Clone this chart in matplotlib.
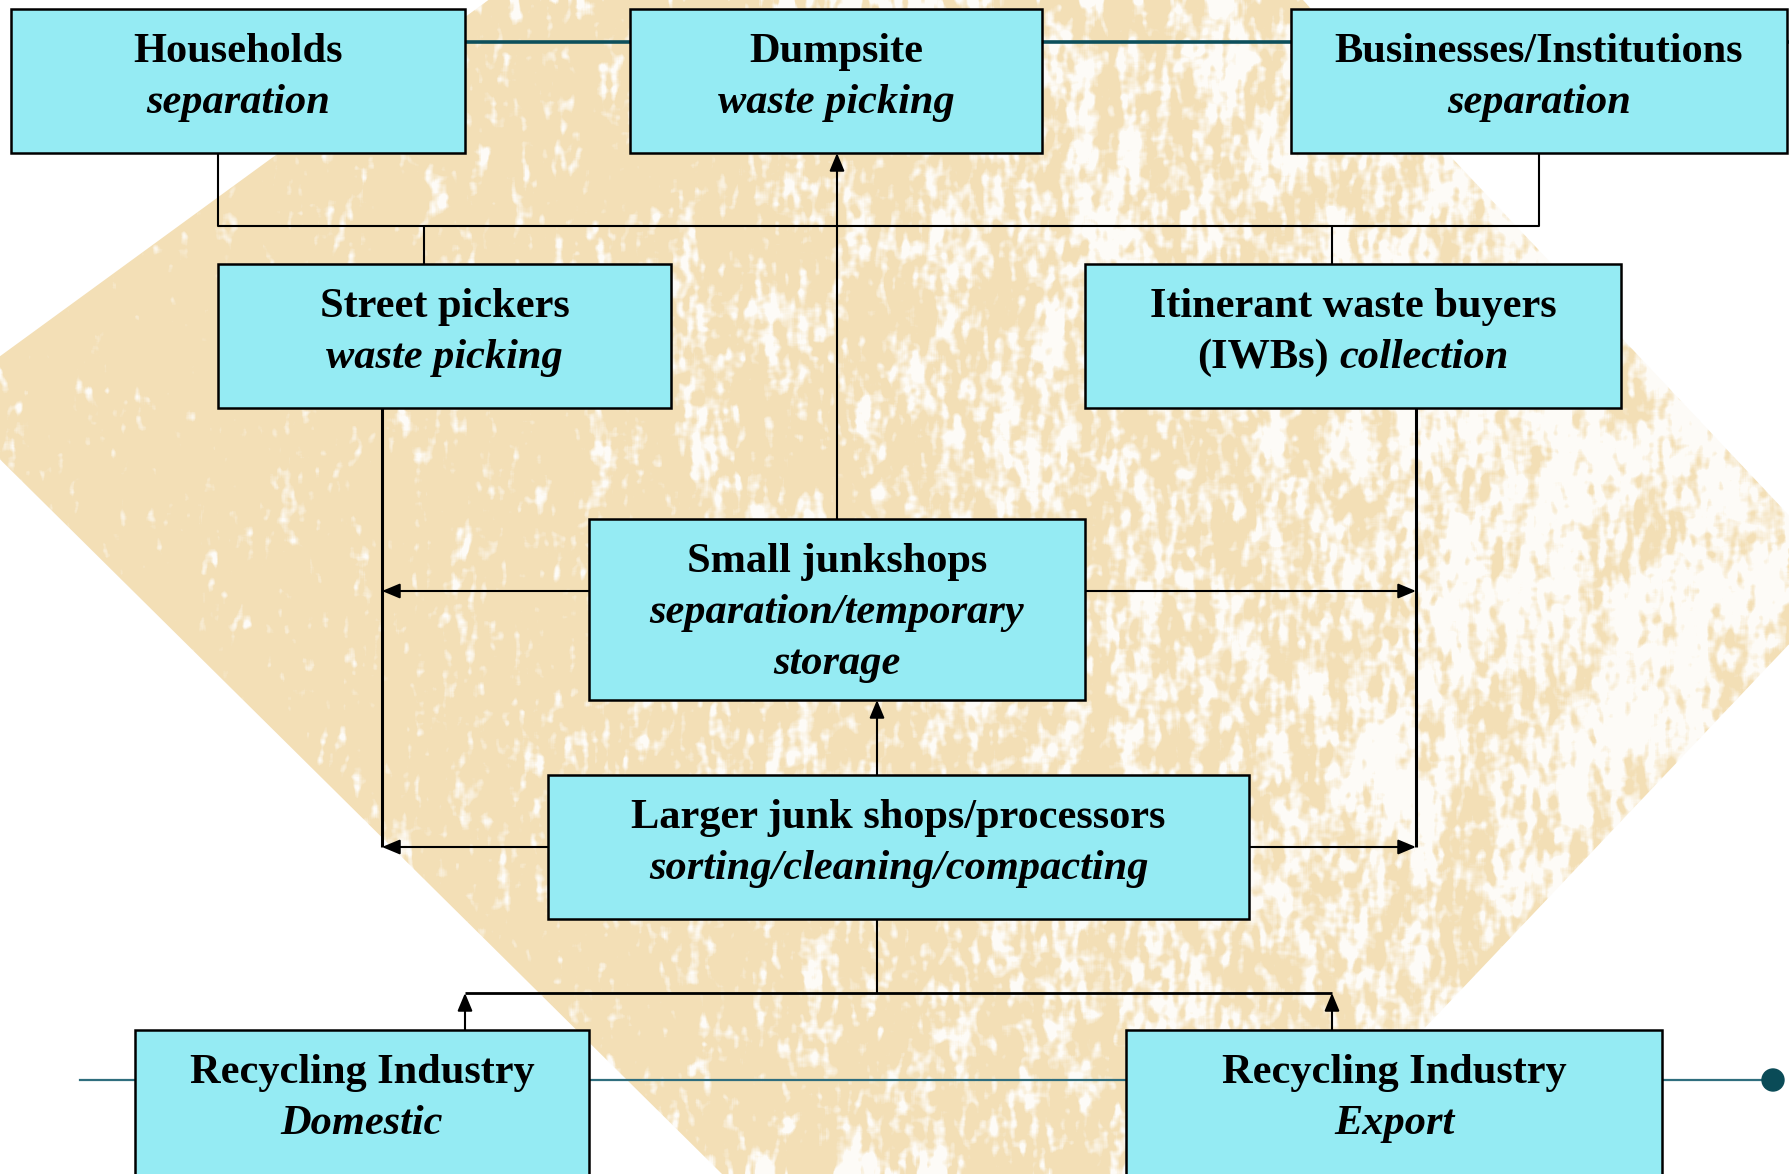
import numpy as np
import matplotlib.pyplot as plt
from matplotlib.patches import Rectangle, Polygon, Circle

# box labels
titles = ["Households", "Dumpsite", "Businesses/Institutions",
          "Street pickers", "Itinerant waste buyers",
          "Small junkshops", "Larger junk shops/processors",
          "Recycling Industry", "Recycling Industry"]
subtitles = [["separation"], ["waste picking"], ["separation"],
             ["waste picking"], ["collection"],
             ["separation/temporary", "storage"], ["sorting/cleaning/compacting"],
             ["Domestic"], ["Export"]]
# bold upright prefix on the subtitle line (only the IWBs box has one)
prefixes = ["", "", "", "", "(IWBs)", "", "", "", ""]

# layout in pixels: x0, y0, x1, y1
box_pos = [(11, 9, 465, 153), (630, 9, 1042, 153), (1291, 9, 1787, 153),
           (218, 264, 671, 408), (1085, 264, 1621, 408),
           (589, 519, 1085, 700), (548, 775, 1249, 919),
           (135, 1030, 589, 1200), (1126, 1030, 1662, 1200)]

FILL = "#95EBF3"
TEAL = "#0D4F5B"
FONT = "Liberation Serif"
FS = 30.5

fig = plt.figure(figsize=(17.9, 11.74), dpi=100)
ax = fig.add_axes([0, 0, 1, 1])
ax.set_xlim(0, 1790)
ax.set_ylim(1174, 0)
ax.axis("off")


def box_blur(a, ky, kx):
    # moving average along both axes (edge padded)
    a = np.pad(a, ((ky, ky), (kx, kx)), mode="edge")
    c = np.cumsum(a, axis=0)
    a = (c[2 * ky:] - c[:-2 * ky]) / (2 * ky)
    c = np.cumsum(a, axis=1)
    a = (c[:, 2 * kx:] - c[:, :-2 * kx]) / (2 * kx)
    return a


# textured beige background shape
rng = np.random.default_rng(3)
h, w = 1174, 1790
fine = box_blur(rng.random((h, w)), 7, 3)
broad = box_blur(rng.random((h, w)), 30, 12)
n = (fine - fine.mean()) / fine.std() + 0.8 * (broad - broad.mean()) / broad.std()
n = box_blur(n, 2, 2)
xx = np.linspace(0, 1, w)[None, :]
# paler speckle, denser toward the right
white = np.clip((n - (1.8 - 3.6 * xx)) * 0.5, 0, 0.9)
base = np.array([243, 223, 182]) / 255.0
img = base[None, None, :] * (1 - white[..., None]) + white[..., None]
bg_shape = Polygon([(-60, 400), (971, -352), (1850, 580), (1013, 1462)],
                   closed=True, facecolor="none", edgecolor="none")
ax.add_patch(bg_shape)
im = ax.imshow(img, extent=(0, w, h, 0), origin="upper", aspect="auto", zorder=0)
im.set_clip_path(bg_shape)

# teal decorative rails
ax.plot([238, 1790], [42, 42], color=TEAL, lw=2.6, zorder=1)
ax.plot([80, 1773], [1080, 1080], color="#2F6E7E", lw=1.6, zorder=1)
ax.add_patch(Circle((1773, 1080), 11, color="#0A4B57", zorder=1))


# plain connectors
def seg(xs, ys, lw=1.5):
    ax.plot(xs, ys, color="black", lw=lw, zorder=2, solid_capstyle="butt")


seg([218, 218, 1539, 1539], [153, 226, 226, 153])
seg([424, 424], [226, 264])
seg([1332, 1332], [226, 264])
seg([382, 382], [408, 847], lw=2.2)
seg([1416, 1416], [408, 847], lw=2.2)
seg([877, 877], [919, 993])
seg([465, 1332], [993, 993], lw=2.0)

# arrows: (tail, head)
arrows = [((837, 519), (837, 153)),
          ((589, 591), (382, 591)),
          ((1085, 591), (1416, 591)),
          ((548, 847), (382, 847)),
          ((1249, 847), (1416, 847)),
          ((877, 775), (877, 700)),
          ((465, 1030), (465, 993)),
          ((1332, 1030), (1332, 993))]
for tail, head in arrows:
    ax.annotate("", xy=head, xytext=tail,
                arrowprops=dict(arrowstyle="-|>,head_length=0.6,head_width=0.25",
                                color="black", lw=1.5, mutation_scale=18,
                                shrinkA=0, shrinkB=0), zorder=2)

renderer = fig.canvas.get_renderer()

for title, subs, pre, (x0, y0, x1, y1) in zip(titles, subtitles, prefixes, box_pos):
    ax.add_patch(Rectangle((x0, y0), x1 - x0, y1 - y0, facecolor=FILL,
                           edgecolor="black", lw=1.8, zorder=3))
    cx = (x0 + x1) / 2
    y = y0 + 43
    ax.text(cx, y, title, ha="center", va="center", fontsize=FS,
            fontweight="bold", family=FONT, zorder=4)
    for s in subs:
        y += 51
        if pre:
            t1 = ax.text(0, y, pre, ha="left", va="center", fontsize=FS,
                         fontweight="bold", family=FONT, zorder=4)
            t2 = ax.text(0, y, s, ha="left", va="center", fontsize=FS,
                         fontweight="bold", style="italic", family=FONT, zorder=4)
            w1 = t1.get_window_extent(renderer).width
            w2 = t2.get_window_extent(renderer).width
            gap = 10
            start = cx - (w1 + gap + w2) / 2
            t1.set_x(start)
            t2.set_x(start + w1 + gap)
        else:
            ax.text(cx, y, s, ha="center", va="center", fontsize=FS,
                    fontweight="bold", style="italic", family=FONT, zorder=4)

fig.savefig("out.png", dpi=100)
